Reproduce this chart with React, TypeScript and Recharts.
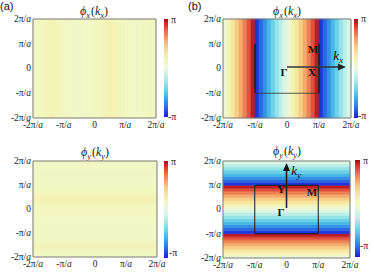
import { ScatterChart, Scatter, XAxis, YAxis, ReferenceArea, ReferenceLine } from 'recharts';

// k axis ticks, in units of π/a
const kTicks = [-2, -1, 0, 1, 2];
const kTickText: Record<number, string> = { [-2]: '-2π/', [-1]: '-π/', 0: '0', 1: 'π/', 2: '2π/' };

// phase (units of π), one value per column (a, b) or row (c, d), from -2π/a to 2π/a
const phiA = [0.13, 0.14, 0.15, 0.17, 0.2, 0.19, 0.16, 0.14, 0.13, 0.12, 0.12, 0.11, 0.11, 0.12, 0.12, 0.13,
  0.14, 0.15, 0.17, 0.19, 0.2, 0.18, 0.15, 0.14, 0.13, 0.13, 0.12, 0.12, 0.13, 0.13, 0.14, 0.14];
const phiB = [0.06, 0.19, 0.31, 0.44, 0.56, 0.69, 0.81, 0.94, -0.94, -0.81, -0.69, -0.56, -0.44, -0.31, -0.19, -0.06,
  0.06, 0.19, 0.31, 0.44, 0.56, 0.69, 0.81, 0.94, -0.94, -0.81, -0.69, -0.56, -0.44, -0.31, -0.19, -0.06];
const phiC = [0.13, 0.14, 0.16, 0.19, 0.17, 0.14, 0.13, 0.12, 0.12, 0.12, 0.12, 0.13, 0.13, 0.13, 0.14, 0.14,
  0.15, 0.16, 0.18, 0.2, 0.18, 0.15, 0.14, 0.13, 0.12, 0.12, 0.12, 0.11, 0.11, 0.12, 0.12, 0.13];
const phiD = [0.06, 0.19, 0.31, 0.44, 0.56, 0.69, 0.81, 0.94, -0.94, -0.81, -0.69, -0.56, -0.44, -0.31, -0.19, -0.06,
  0.06, 0.19, 0.31, 0.44, 0.56, 0.69, 0.81, 0.94, -0.94, -0.81, -0.69, -0.56, -0.44, -0.31, -0.19, -0.06];

type Note = { x: number; y: number; text: string; sub?: string };

const notesB: Note[] = [
  { x: 0.81, y: 0.79, text: 'M' },
  { x: 1.6, y: 0.52, text: 'k', sub: 'x' },
  { x: -0.09, y: -0.14, text: 'Γ' },
  { x: 0.78, y: -0.14, text: 'X' },
];
const notesD: Note[] = [
  { x: -0.17, y: 0.85, text: 'Y' },
  { x: 0.8, y: 0.72, text: 'M' },
  { x: 0.3, y: 1.63, text: 'k', sub: 'y' },
  { x: -0.17, y: -0.1, text: 'Γ' },
];

const cmap: [number, string][] = [
  [-1, '#1c1cd8'],
  [-0.8, '#2a6ee0'],
  [-0.6, '#3cb0e6'],
  [-0.4, '#78d8e8'],
  [-0.2, '#b8eeea'],
  [0, '#e8f8e0'],
  [0.15, '#f3f7be'],
  [0.3, '#f6e8a0'],
  [0.45, '#f6cc84'],
  [0.6, '#f2a066'],
  [0.75, '#ea6a48'],
  [0.9, '#d42a2a'],
  [1, '#a00a14'],
];

const hex = (h: string) => [1, 3, 5].map((i) => parseInt(h.slice(i, i + 2), 16));

function phaseColor(v: number) {
  const t = Math.max(-1, Math.min(1, v));
  for (let i = 1; i < cmap.length; i++) {
    if (t <= cmap[i][0]) {
      const [t0, c0] = cmap[i - 1];
      const [t1, c1] = cmap[i];
      const f = (t - t0) / (t1 - t0);
      const a = hex(c0);
      const b = hex(c1);
      const rgb = a.map((x, j) => Math.round(x + (b[j] - x) * f));
      return `rgb(${rgb.join(',')})`;
    }
  }
  return cmap[cmap.length - 1][1];
}

const serif = '"Liberation Serif", "DejaVu Serif", serif';

function KTick(props: any) {
  const { x, y, payload, textAnchor, vertical } = props;
  const v = payload.value as number;
  return (
    <text
      x={x}
      y={y}
      dy={vertical ? '0.3em' : '0.72em'}
      textAnchor={textAnchor}
      fontFamily={serif}
      fontSize={9.5}
      fill="#222"
    >
      {kTickText[v]}
      {v !== 0 && <tspan fontStyle="italic">a</tspan>}
    </text>
  );
}

function NoteShape(props: any) {
  const { cx, cy, payload } = props;
  if (payload.sub) {
    return (
      <text x={cx} y={cy} dy="0.35em" textAnchor="middle" fontFamily={serif} fontSize={13} fill="#111">
        <tspan fontStyle="italic">{payload.text}</tspan>
        <tspan fontStyle="italic" fontSize={9} dy={3}>{payload.sub}</tspan>
      </text>
    );
  }
  return (
    <text x={cx} y={cy} dy="0.35em" textAnchor="middle" fontFamily={serif} fontSize={11} fontWeight="bold" fill="#111">
      {payload.text}
    </text>
  );
}

type PanelProps = {
  left: number;
  top: number;
  w: number;
  h: number;
  values: number[];
  dir: 'x' | 'y';
  notes?: Note[];
};

function Panel({ left, top, w, h, values, dir, notes = [] }: PanelProps) {
  const step = 4 / values.length;
  const isB = dir === 'x' && notes.length > 0;
  const isD = dir === 'y' && notes.length > 0;
  return (
    <div style={{ position: 'absolute', left: left - 40, top: top - 6 }}>
      <ScatterChart width={40 + w + 16} height={6 + h + 20} margin={{ top: 6, right: 16, bottom: 0, left: 0 }}>
        <XAxis
          type="number"
          dataKey="x"
          domain={[-2, 2]}
          ticks={kTicks}
          interval={0}
          allowDataOverflow
          axisLine={false}
          tickLine={false}
          tickSize={0}
          tickMargin={3}
          height={20}
          tick={(p: any) => <KTick {...p} />}
        />
        <YAxis
          type="number"
          dataKey="y"
          domain={[-2, 2]}
          ticks={kTicks}
          interval={0}
          allowDataOverflow
          axisLine={false}
          tickLine={false}
          tickSize={0}
          tickMargin={2}
          width={40}
          tick={(p: any) => <KTick {...p} vertical />}
        />
        {values.map((v, i) => {
          const a = -2 + i * step;
          const b = a + step;
          const c = phaseColor(v);
          return dir === 'x' ? (
            <ReferenceArea key={i} x1={a} x2={b} y1={-2} y2={2} fill={c} fillOpacity={1} stroke={c} strokeWidth={0.6} ifOverflow="visible" />
          ) : (
            <ReferenceArea key={i} x1={-2} x2={2} y1={a} y2={b} fill={c} fillOpacity={1} stroke={c} strokeWidth={0.6} ifOverflow="visible" />
          );
        })}
        <ReferenceArea x1={-2} x2={2} y1={-2} y2={2} fill="none" stroke="#7a7a7a" strokeWidth={1} ifOverflow="visible" />
        {isB && (
          <>
            <ReferenceLine segment={[{ x: -1, y: 1 }, { x: -1, y: -1 }]} stroke="#1a1a1a" strokeWidth={1.3} ifOverflow="visible" />
            <ReferenceLine segment={[{ x: 1, y: 1 }, { x: 1, y: -1 }]} stroke="#1a1a1a" strokeWidth={1.3} ifOverflow="visible" />
            <ReferenceLine segment={[{ x: -1, y: -1 }, { x: 1, y: -1 }]} stroke="#333" strokeWidth={0.8} ifOverflow="visible" />
            <ReferenceLine segment={[{ x: 0, y: 0.06 }, { x: 1.75, y: 0.06 }]} stroke="#333" strokeWidth={1.6} ifOverflow="visible" />
            <Scatter
              data={[{ x: 1.84, y: 0.06 }]}
              isAnimationActive={false}
              shape={(p: any) => (
                <polygon points={`${p.cx},${p.cy} ${p.cx - 8},${p.cy - 3.5} ${p.cx - 8},${p.cy + 3.5}`} fill="#222" />
              )}
            />
          </>
        )}
        {isD && (
          <>
            <ReferenceArea x1={-1} x2={1} y1={-1} y2={1} fill="none" stroke="#1a1a1a" strokeWidth={1} ifOverflow="visible" />
            <ReferenceLine segment={[{ x: 0, y: 0.06 }, { x: 0, y: 1.8 }]} stroke="#222" strokeWidth={1.6} ifOverflow="visible" />
            <Scatter
              data={[{ x: 0, y: 1.92 }]}
              isAnimationActive={false}
              shape={(p: any) => (
                <polygon points={`${p.cx},${p.cy} ${p.cx - 3.5},${p.cy + 8} ${p.cx + 3.5},${p.cy + 8}`} fill="#111" />
              )}
            />
          </>
        )}
        <Scatter data={notes} isAnimationActive={false} shape={(p: any) => <NoteShape {...p} />} />
      </ScatterChart>
    </div>
  );
}

function Title({ x, y, s }: { x: number; y: number; s: string }) {
  return (
    <text x={x} y={y} textAnchor="middle" fontFamily={serif} fontSize={12} fill="#222">
      <tspan fontStyle="italic">ϕ</tspan>
      <tspan fontStyle="italic" fontSize={8.5} dy={2.5}>{s}</tspan>
      <tspan dy={-2.5} dx={1}>(</tspan>
      <tspan fontStyle="italic">k</tspan>
      <tspan fontStyle="italic" fontSize={8.5} dy={2.5}>{s}</tspan>
      <tspan dy={-2.5}>)</tspan>
    </text>
  );
}

function ColorBar({ x, y, w, h, id }: { x: number; y: number; w: number; h: number; id: string }) {
  return (
    <g>
      <defs>
        <linearGradient id={id} x1="0" y1="1" x2="0" y2="0">
          {cmap.map(([t, c]) => (
            <stop key={t} offset={(t + 1) / 2} stopColor={c} />
          ))}
        </linearGradient>
      </defs>
      <rect x={x} y={y} width={w} height={h} fill={`url(#${id})`} />
    </g>
  );
}

export default function App() {
  return (
    <div style={{ position: 'absolute', left: 0, top: 0, width: 374, height: 277, background: '#fff', overflow: 'hidden' }}>
      <svg width={374} height={277} style={{ position: 'absolute', left: 0, top: 0 }}>
        <text x={0} y={10} fontFamily='"Liberation Sans", Arial, sans-serif' fontSize={11} fill="#111">(a)</text>
        <text x={188} y={10} fontFamily='"Liberation Sans", Arial, sans-serif' fontSize={11} fill="#111">(b)</text>
        <Title x={94} y={15} s="x" />
        <Title x={287} y={15} s="x" />
        <Title x={95} y={156} s="y" />
        <Title x={287} y={155} s="y" />
        <ColorBar id="cba" x={164} y={19} w={4} h={98} />
        <ColorBar id="cbb" x={354} y={19} w={4} h={99} />
        <ColorBar id="cbc" x={164} y={161} w={4} h={97} />
        <ColorBar id="cbd" x={355} y={160} w={5} h={97} />
        <g fontFamily={serif} fontSize={10} fill="#222">
          <text x={171} y={23}>π</text>
          <text x={168} y={120}>-π</text>
          <text x={361} y={22}>π</text>
          <text x={358} y={119}>-π</text>
          <text x={171} y={165}>π</text>
          <text x={169} y={256}>-π</text>
          <text x={363} y={164}>π</text>
          <text x={360} y={249}>-π</text>
        </g>
      </svg>
      <Panel left={33} top={19} w={123} h={99} values={phiA} dir="x" />
      <Panel left={223} top={19} w={128} h={99} values={phiB} dir="x" notes={notesB} />
      <Panel left={33} top={161} w={124} h={96} values={phiC} dir="y" />
      <Panel left={223} top={161} w={127} h={97} values={phiD} dir="y" notes={notesD} />
    </div>
  );
}
